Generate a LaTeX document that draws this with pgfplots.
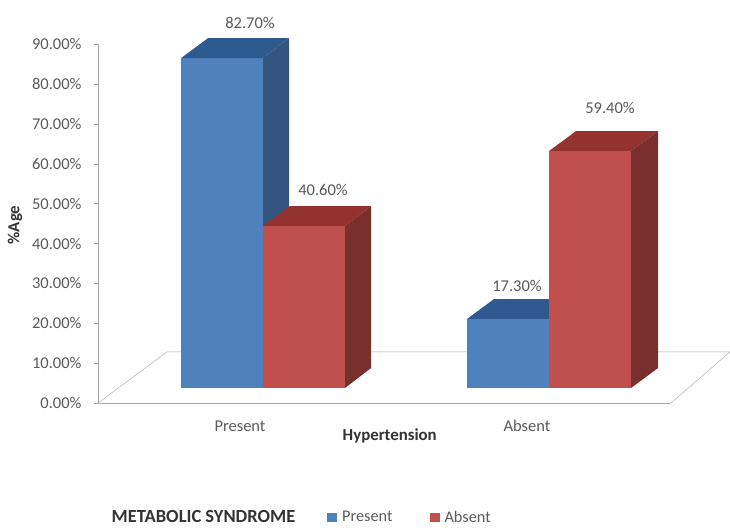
\documentclass[border=0pt]{standalone}
\usepackage{fontspec}
\setmainfont{Carlito}
\usepackage{pgfplots}
\pgfplotsset{compat=1.18}

\definecolor{bluefront}{HTML}{4F81BD}
\definecolor{bluetop}{HTML}{2F5A8F}
\definecolor{blueside}{HTML}{34557F}
\definecolor{redfront}{HTML}{C0504D}
\definecolor{redtop}{HTML}{93322F}
\definecolor{redside}{HTML}{7A2F2D}
\definecolor{axisgrey}{HTML}{A6A6A6}
\definecolor{labelgrey}{HTML}{595959}

\begin{document}
\begin{tikzpicture}
\path[use as bounding box] (-98pt,-124pt) rectangle (632pt,403pt);
\begin{axis}[
	scale only axis,
	width=572pt,
	height=359pt,
	at={(0pt,0pt)},
	clip=false,
	xmin=98, xmax=670,
	ymin=0, ymax=90,
	axis x line*=bottom,
	axis y line*=left,
	axis line style={axisgrey,-},
	xtick={240,527},
	xticklabels={Present,Absent},
	xtick style={draw=none},
	extra x ticks={98,385,670},
	extra x tick labels={},
	extra x tick style={tick style={axisgrey,draw=axisgrey}},
	ytick={0,10,...,90},
	ytick style={axisgrey},
	tick align=outside,
	major tick length=4pt,
	yticklabel={\pgfmathprintnumber[fixed,fixed zerofill,precision=2,assume math mode=true]{\tick}\%},
	ticklabel style={font=\fontsize{16.5}{18}\selectfont,text=labelgrey},
	xticklabel style={yshift=-10pt},
	yticklabel style={xshift=-9pt},
	xlabel={\textbf{Hypertension}},
	ylabel={\textbf{\%Age}},
	label style={font=\fontsize{16.8}{19}\selectfont,text=black!80},
	xlabel style={at={(axis description cs:0.51,-0.092)},anchor=center},
	ylabel style={at={(axis description cs:-0.145,0.496)},anchor=center},
	legend columns=2,
	legend style={draw=none,fill=none,font=\fontsize{16.3}{18}\selectfont,text=labelgrey,
		at={(axis description cs:0.395,-0.318)},anchor=west,
		/tikz/every even column/.append style={column sep=35pt}},
	legend image code/.code={\fill[#1] (0pt,-4.5pt) rectangle (10pt,4.5pt);\path (13pt,0pt);},
]
% floor
\addplot[axisgrey,forget plot] coordinates {(98,0) (167,12.8) (730,12.8) (671,0)};

% Present / Present 82.7
\addplot[fill=bluefront,draw=none] coordinates {(181,3.76) (263,3.76) (263,86.46) (181,86.46)} -- cycle;
\addlegendentry{Present}
\addplot[fill=bluetop,draw=none,forget plot] coordinates {(181,86.46) (263,86.46) (289,91.46) (208,91.46)} -- cycle;
\addplot[fill=blueside,draw=none,forget plot] coordinates {(263,3.76) (289,8.76) (289,91.46) (263,86.46)} -- cycle;

% Present / Absent 40.6
\addplot[fill=redfront,draw=none] coordinates {(263,3.76) (345,3.76) (345,44.36) (263,44.36)} -- cycle;
\addlegendentry{Absent}
\addplot[fill=redtop,draw=none,forget plot] coordinates {(263,44.36) (345,44.36) (371,49.36) (290,49.36)} -- cycle;
\addplot[fill=redside,draw=none,forget plot] coordinates {(345,3.76) (371,8.76) (371,49.36) (345,44.36)} -- cycle;

% Absent / Present 17.3
\addplot[fill=bluefront,draw=none,forget plot] coordinates {(467,3.76) (549,3.76) (549,21.06) (467,21.06)} -- cycle;
\addplot[fill=bluetop,draw=none,forget plot] coordinates {(467,21.06) (549,21.06) (575,26.06) (494,26.06)} -- cycle;

% Absent / Absent 59.4
\addplot[fill=redfront,draw=none,forget plot] coordinates {(549,3.76) (631,3.76) (631,63.16) (549,63.16)} -- cycle;
\addplot[fill=redtop,draw=none,forget plot] coordinates {(549,63.16) (631,63.16) (658,68.16) (576,68.16)} -- cycle;
\addplot[fill=redside,draw=none,forget plot] coordinates {(631,3.76) (658,8.76) (658,68.16) (631,63.16)} -- cycle;

% value labels
\begin{scope}[every node/.style={font=\fontsize{16.5}{18}\selectfont,text=labelgrey}]
\node at (axis cs:250,95.3) {82.70\%};
\node at (axis cs:323,53.4) {40.60\%};
\node at (axis cs:517,29.3) {17.30\%};
\node at (axis cs:610,73.95) {59.40\%};
\end{scope}
\node[font=\fontsize{18.5}{20}\selectfont\bfseries,text=black!80,inner sep=0pt] at (axis cs:203.5,-28.5) {METABOLIC SYNDROME};
\end{axis}
\end{tikzpicture}
\end{document}
